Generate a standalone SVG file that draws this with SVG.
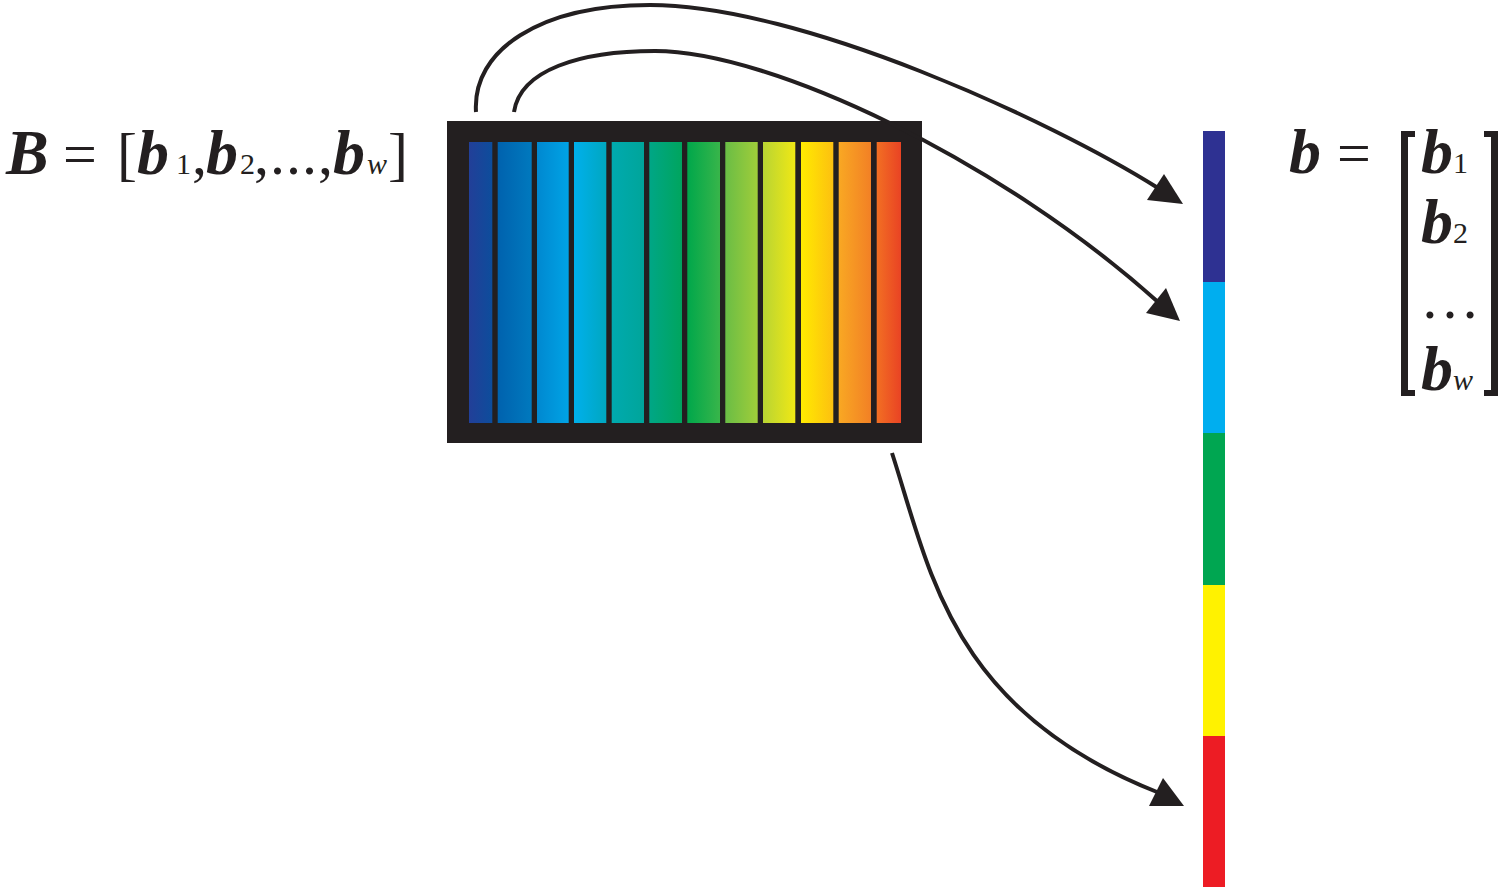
<svg xmlns="http://www.w3.org/2000/svg" width="1499" height="891" viewBox="0 0 1499 891">
<style>
.t{font-family:"Liberation Serif","Times New Roman",serif;fill:#231f20}
.bi{font-weight:bold;font-style:italic;font-size:64px}
.sub{font-size:30px}
.con{fill:none;stroke:#231f20;stroke-width:4}
.head{fill:#231f20}
</style>
<defs>
<linearGradient id="g1"><stop offset="0" stop-color="#223f98"/><stop offset="1" stop-color="#0d4d9c"/></linearGradient>
<linearGradient id="g2"><stop offset="0" stop-color="#0062ae"/><stop offset="1" stop-color="#0079be"/></linearGradient>
<linearGradient id="g3"><stop offset="0" stop-color="#0088d0"/><stop offset="1" stop-color="#00a3e5"/></linearGradient>
<linearGradient id="g4"><stop offset="0" stop-color="#00b0ec"/><stop offset="1" stop-color="#00a7c0"/></linearGradient>
<linearGradient id="g5"><stop offset="0" stop-color="#00aaaf"/><stop offset="1" stop-color="#00a59a"/></linearGradient>
<linearGradient id="g6"><stop offset="0" stop-color="#00a686"/><stop offset="1" stop-color="#00a55e"/></linearGradient>
<linearGradient id="g7"><stop offset="0" stop-color="#00a74b"/><stop offset="1" stop-color="#38b54a"/></linearGradient>
<linearGradient id="g8"><stop offset="0" stop-color="#6abd45"/><stop offset="1" stop-color="#a0cd3a"/></linearGradient>
<linearGradient id="g9"><stop offset="0" stop-color="#b8d433"/><stop offset="1" stop-color="#f0e815"/></linearGradient>
<linearGradient id="g10"><stop offset="0" stop-color="#ffeb00"/><stop offset="1" stop-color="#fdc010"/></linearGradient>
<linearGradient id="g11"><stop offset="0" stop-color="#f9a823"/><stop offset="1" stop-color="#f28025"/></linearGradient>
<linearGradient id="g12"><stop offset="0" stop-color="#f26f23"/><stop offset="1" stop-color="#e94324"/></linearGradient>
</defs>

<g id="label-B">
<text class="t" y="174" font-size="60"><tspan class="bi" font-size="60" x="6">B</tspan><tspan x="63">=</tspan><tspan x="117">[</tspan><tspan class="bi" x="137">b</tspan><tspan class="sub" x="176">1</tspan><tspan x="192">,</tspan><tspan class="bi" x="206">b</tspan><tspan class="sub" x="240">2</tspan><tspan x="254" letter-spacing="1">,...,</tspan><tspan class="bi" x="333">b</tspan><tspan class="sub" font-style="italic" x="367">w</tspan><tspan x="388">]</tspan></text>
</g>

<g id="image-B">
<rect x="447" y="121" width="475" height="322" fill="#231f20"/>
<rect x="469" y="142" width="23.3" height="281" fill="url(#g1)"/>
<rect x="497.7" y="142" width="34" height="281" fill="url(#g2)"/>
<rect x="537" y="142" width="31.7" height="281" fill="url(#g3)"/>
<rect x="574" y="142" width="32.3" height="281" fill="url(#g4)"/>
<rect x="611.7" y="142" width="32.3" height="281" fill="url(#g5)"/>
<rect x="649.3" y="142" width="32.7" height="281" fill="url(#g6)"/>
<rect x="687.3" y="142" width="32.7" height="281" fill="url(#g7)"/>
<rect x="725.3" y="142" width="32.4" height="281" fill="url(#g8)"/>
<rect x="763" y="142" width="32.3" height="281" fill="url(#g9)"/>
<rect x="801" y="142" width="32.3" height="281" fill="url(#g10)"/>
<rect x="838.7" y="142" width="32.3" height="281" fill="url(#g11)"/>
<rect x="876.7" y="142" width="24.3" height="281" fill="url(#g12)"/>
</g>

<g id="vector-b">
<rect x="1203" y="131" width="22" height="151" fill="#2e3192"/>
<rect x="1203" y="282" width="22" height="151" fill="#00aeef"/>
<rect x="1203" y="433" width="22" height="152" fill="#00a651"/>
<rect x="1203" y="585" width="22" height="151" fill="#fff200"/>
<rect x="1203" y="736" width="22" height="151" fill="#ed1c24"/>
</g>

<g id="label-b">
<text class="t" y="173" font-size="60"><tspan class="bi" x="1289">b</tspan><tspan x="1337">=</tspan></text>
<path d="M1415,131 H1401 V396 H1415 V390 H1408 V137 H1415 Z" fill="#231f20"/>
<path d="M1484,131 H1498 V396 H1484 V390 H1491 V137 H1484 Z" fill="#231f20"/>
<text class="t" font-size="60"><tspan class="bi" x="1421" y="173">b</tspan><tspan class="sub" x="1453" y="173">1</tspan></text>
<text class="t" font-size="60"><tspan class="bi" x="1421" y="243">b</tspan><tspan class="sub" x="1453" y="243">2</tspan></text>
<text class="t" font-size="60" x="1420" y="318">…</text>
<text class="t" font-size="60"><tspan class="bi" x="1421" y="390">b</tspan><tspan class="sub" font-style="italic" x="1453" y="390">w</tspan></text>
</g>

<g id="connectors">
<path class="con" d="M476,112 C472,50 540,5 650,5 C800,5 1050,120 1158,188"/>
<polygon class="head" points="1164,174 1147,200 1183,204"/>
<path class="con" d="M514,112 C520,70 580,51 655,51 C770,51 1000,160 1158,302"/>
<polygon class="head" points="1166,288 1146,313 1180,321"/>
<path class="con" d="M892,453 C930,570 950,710 1157,792"/>
<polygon class="head" points="1163,778 1149,806 1184,806"/>
</g>
</svg>
